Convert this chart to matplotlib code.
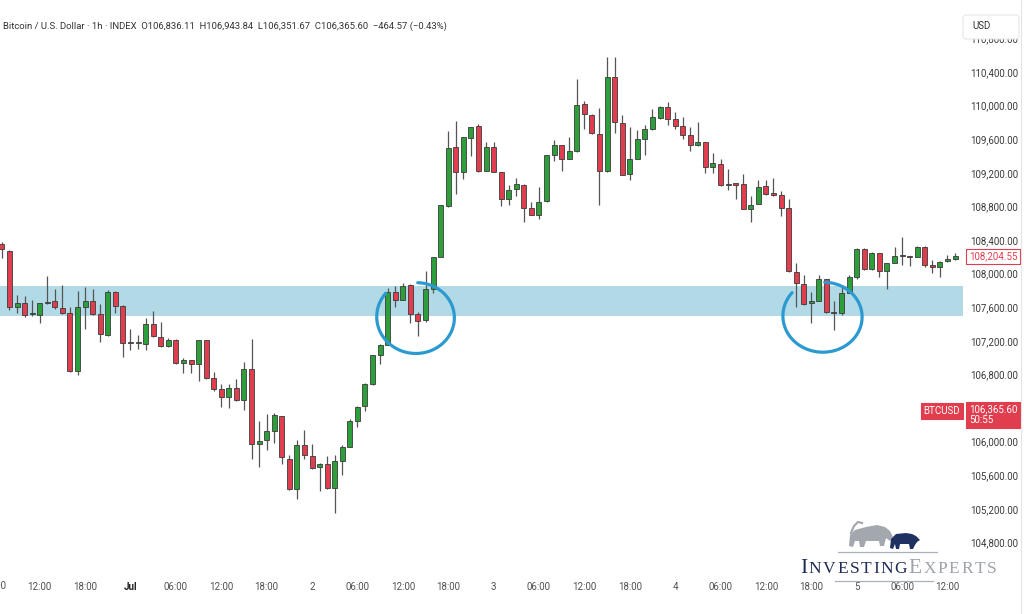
import matplotlib
matplotlib.use("Agg")
import matplotlib.pyplot as plt
from matplotlib.patches import Polygon, FancyBboxPatch
from matplotlib.transforms import blended_transform_factory
import numpy as np

plt.rcParams['font.family'] = ['Roboto', 'DejaVu Sans']

# horas contadas desde el 1 jul 00:00 (velas de 1h)
horas = np.arange(-17, 110)

aperturas = [108352, 108273, 107606, 107654, 107515, 107504, 107650, 107670, 107590, 107527,
             106844, 107606, 107670, 107519, 107273, 107781, 107614, 107175, 107170, 107162,
             107400, 107249, 107138, 107210, 106939, 106971, 106924, 107210, 106757, 106623,
             106527, 106638, 106495, 106861, 105971, 106019, 106130, 106305, 105796, 105439,
             105963, 105829, 105694, 105733, 105448, 105773, 105939, 106249, 106424, 106686,
             107035, 107154, 107781, 107686, 107864, 107519, 107448, 107820, 108201, 108805,
             109504, 109210, 109614, 109757, 109225, 109511, 109210, 108885, 109004, 109058,
             108781, 108701, 108861, 109408, 109527, 109369, 109456, 110019, 109892, 109662,
             109225, 110344, 109797, 109185, 109369, 109606, 109725, 109853, 109987, 109837,
             109757, 109646, 109527, 109567, 109266, 109305, 109060, 109066, 109067, 108773,
             108825, 109043, 108956, 108932, 108781, 108019, 107876, 107655, 107677, 107932,
             107543, 107527, 107773, 107963, 108296, 108051, 108242, 108035, 108130, 108212,
             108210, 108201, 108320, 108099, 108075, 108146, 108170]
maximos = [108380, 108281, 107742, 107733, 107686, 107646, 107971, 107813, 107864, 107606,
           107796, 107844, 107820, 107638, 107805, 107796, 107622, 107337, 107265, 107471,
           107551, 107424, 107233, 107225, 106995, 106971, 107210, 107210, 106829, 106686,
           106686, 106749, 106948, 107218, 106249, 106329, 106337, 106305, 105837, 106019,
           106138, 105971, 105749, 105829, 105844, 105963, 106273, 106424, 106701, 107035,
           107162, 107829, 107852, 107888, 107876, 107543, 108035, 108201, 108820, 109701,
           109820, 109623, 109749, 109781, 109567, 109567, 109210, 109058, 109138, 109067,
           108852, 109035, 109415, 109591, 109535, 109623, 110320, 110051, 109900, 109971,
           110575, 110575, 109885, 109749, 109710, 109765, 109963, 109995, 110043, 109924,
           109861, 109742, 109805, 109567, 109432, 109369, 109249, 109082, 109180, 108924,
           109114, 109114, 109134, 108987, 108892, 108130, 107987, 107781, 107980, 107939,
           107670, 107868, 107987, 108305, 108305, 108255, 108249, 108130, 108320, 108432,
           108212, 108325, 108325, 108162, 108146, 108225, 108249]
minimos = [108182, 107567, 107527, 107487, 107495, 107415, 107638, 107582, 107519, 106829,
           106789, 107337, 107511, 107186, 107257, 107527, 107004, 107090, 107099, 107090,
           107242, 107130, 107123, 106924, 106813, 106820, 106725, 106749, 106599, 106408,
           106400, 106487, 106376, 105789, 105694, 105900, 105980, 105733, 105424, 105320,
           105796, 105678, 105416, 105439, 105146, 105599, 105939, 106177, 106368, 106678,
           106924, 107150, 107602, 107680, 107412, 107257, 107424, 107765, 108195, 108789,
           108948, 109123, 109400, 109210, 109217, 109210, 108805, 108820, 108924, 108614,
           108694, 108646, 108855, 109337, 109225, 109369, 109450, 109718, 109660, 108820,
           109210, 109670, 109170, 109114, 109365, 109416, 109710, 109845, 109765, 109725,
           109606, 109456, 109519, 109194, 109194, 109043, 108995, 108885, 108765, 108614,
           108825, 108932, 108924, 108686, 108019, 107606, 107622, 107408, 107670, 107535,
           107329, 107511, 107765, 107939, 108043, 108045, 107963, 107820, 108125, 108099,
           108090, 108195, 108079, 108004, 107963, 108138, 108162]
cierres = [108289, 107599, 107646, 107504, 107520, 107646, 107656, 107599, 107527, 106837,
           107606, 107670, 107519, 107281, 107781, 107614, 107177, 107170, 107175, 107400,
           107257, 107138, 107210, 106932, 106971, 106924, 107210, 106757, 106623, 106527,
           106638, 106495, 106861, 105971, 106011, 106123, 106313, 105813, 105439, 105956,
           105837, 105686, 105733, 105448, 105765, 105939, 106242, 106415, 106686, 107027,
           107154, 107781, 107686, 107852, 107519, 107439, 107820, 108201, 108813, 109495,
           109210, 109623, 109749, 109225, 109511, 109210, 108885, 108995, 109067, 108781,
           108701, 108852, 109408, 109535, 109361, 109456, 110011, 109900, 109670, 109225,
           110337, 109805, 109177, 109369, 109606, 109725, 109861, 109987, 109837, 109757,
           109654, 109535, 109567, 109266, 109313, 109051, 109050, 109060, 108773, 108820,
           109035, 108948, 108932, 108781, 108027, 107885, 107638, 107662, 107932, 107543,
           107527, 107765, 107963, 108296, 108051, 108249, 108035, 108123, 108210, 108218,
           108194, 108320, 108099, 108075, 108138, 108170, 108205]

# zona de soporte marcada
zona = (107495, 107852)
# circulos dibujados a mano (centro hora, centro precio, ancho, alto)
circulos = [(37.8, 107480, 10.0, 840), (91.6, 107490, 10.2, 830)]

ticks_h = [-12, -6, 0, 6, 12, 18, 24, 30, 36, 42, 48, 54, 60, 66, 72, 78, 84, 90, 96, 102, 108]
ticks_txt = ["12:00", "18:00", "Jul", "06:00", "12:00", "18:00", "2", "06:00", "12:00", "18:00", "3",
             "06:00", "12:00", "18:00", "4", "06:00", "12:00", "18:00", "5", "06:00", "12:00"]
precios_eje = np.arange(104800, 111000, 400)

ultimo = 108204.55
precio_btc = 106365.60
cabecera = ("Bitcoin / U.S. Dollar · 1h · INDEX  O106,836.11  H106,943.84  "
            "L106,351.67  C106,365.60  \u2212464.57 (\u22120.43%)")

verde = '#2c9f3a'
rojo = '#e03e4e'
azul_zona = '#b1d9e6'
azul_circ = '#2b9ad1'

fig = plt.figure(figsize=(10.24, 6.14), dpi=100)
ax = fig.add_axes([0, 0.0684, 0.9404, 0.8827])

o = np.array(aperturas, dtype=float)
c = np.array(cierres, dtype=float)
sube = c >= o
colores = np.where(sube, verde, rojo)
alto = np.maximum(np.abs(c - o), 14)
base = np.minimum(o, c)

ax.axhspan(zona[0], zona[1], color=azul_zona, lw=0, zorder=1)
ax.vlines(horas, minimos, maximos, color='#555555', linewidth=0.9, zorder=2)
ax.bar(horas, alto, bottom=base, width=0.66, color=colores, edgecolor='#3b3b3b',
       linewidth=0.6, zorder=3)

# trazo a mano: empieza arriba a la izquierda y da la vuelta dejando un hueco
t = np.deg2rad(np.linspace(140, 448, 160))
for cx, cy, w, h in circulos:
    r = np.linspace(1.06, 0.98, t.size)
    ax.plot(cx + w / 2 * r * np.cos(t), cy + h / 2 * r * np.sin(t), color=azul_circ,
            lw=2.3, solid_capstyle='round', zorder=4)

ax.set_xlim(-17.25, 110.05)
ax.set_ylim(104447, 110900)
for s in ax.spines.values():
    s.set_visible(False)

ax.set_xticks(ticks_h)
ax.set_xticklabels(ticks_txt)
ax.tick_params(axis='x', length=0, pad=7, labelsize=7, labelcolor='#505050')
for lab in ax.get_xticklabels():
    if lab.get_text() == "Jul":
        lab.set_fontweight('bold')
        lab.set_color('#222222')

trx = blended_transform_factory(ax.transData, ax.transAxes)
ax.text(-18, -0.0258, "06:00", transform=trx, ha='center', va='center', fontsize=7,
        color='#505050', clip_on=False)

ax.set_yticks(precios_eje)
ax.set_yticklabels([f"{p:,.2f}" for p in precios_eje])
ax.yaxis.tick_right()
ax.tick_params(axis='y', length=0, pad=5, labelsize=7, labelcolor='#3a3a3a')

try_ = blended_transform_factory(ax.transAxes, ax.transData)
ax.text(1.006, ultimo, f"{ultimo:,.2f}", transform=try_, ha='left', va='center', fontsize=7,
        color=rojo, zorder=6, clip_on=False,
        bbox=dict(boxstyle='square,pad=0.28', fc='white', ec=rojo, lw=0.8))
ax.text(0.997, precio_btc, "BTCUSD", transform=try_, ha='right', va='center', fontsize=7,
        color='white', zorder=6, clip_on=False,
        bbox=dict(boxstyle='square,pad=0.3', fc=rojo, ec=rojo, lw=0.8))
ax.text(1.006, precio_btc + 75, f"{precio_btc:,.2f}\n50:55", transform=try_, ha='left', va='top',
        fontsize=7, color='white', zorder=6, clip_on=False, linespacing=1.1,
        bbox=dict(boxstyle='square,pad=0.3', fc=rojo, ec=rojo, lw=0.8))

# capa de superposicion en pixeles para cabecera y logo
ov = fig.add_axes([0, 0, 1, 1], zorder=10)
ov.set_xlim(0, 1024)
ov.set_ylim(614, 0)
ov.axis('off')
ov.patch.set_alpha(0)

ov.text(3, 26, cabecera, fontsize=6.8, color='#333333', va='center', ha='left')
ov.add_patch(FancyBboxPatch((963, 15), 56, 24, boxstyle='round,pad=0,rounding_size=3',
                            fc='white', ec='#e6e6e6', lw=0.8))
ov.text(972, 26, "USD", fontsize=7, color='#333333', va='center', ha='left')
ov.plot([1021, 1021], [0, 614], color='#e4e4e4', lw=0.8)

# logo
toro = [(849, 546), (850, 535), (855, 530), (866, 527), (877, 525), (885, 527), (890, 531),
        (893, 537), (890, 541), (886, 538), (884, 546), (880, 546), (879, 541), (866, 541),
        (864, 547), (860, 547), (859, 541), (855, 541), (853, 547)]
oso = [(890, 548), (891, 539), (896, 534), (906, 533), (912, 534), (916, 536), (920, 540),
       (917, 542), (915, 545), (913, 549), (910, 549), (909, 544), (900, 544), (899, 549),
       (896, 549), (895, 544), (893, 549)]
ov.add_patch(Polygon(toro, closed=True, fc='#a3a8ae', ec='none'))
ov.plot([851, 854, 858, 862], [533, 526, 522, 523], color='#a3a8ae', lw=1.6)
ov.add_patch(Polygon(oso, closed=True, fc='#1e3161', ec='none'))
ov.plot([838, 937], [552, 552], color='#aab0b8', lw=0.9)
ov.plot([835, 933], [580.5, 580.5], color='#aab0b8', lw=0.9)

fig.canvas.draw()
rend = fig.canvas.get_renderer()
x = 800
for letra, tam, col in [("I", 15.5, '#1e2c55')] + [(l, 12.5, '#1e2c55') for l in "NVESTING"] + \
        [("E", 15.5, '#9ea3aa')] + [(l, 12.5, '#9ea3aa') for l in "XPERTS"]:
    tx = ov.text(x, 573, letra, fontsize=tam, color=col, family='Liberation Serif',
                 va='baseline', ha='left')
    bb = tx.get_window_extent(renderer=rend)
    x += bb.width + 1.6

fig.savefig("out.png", dpi=100)
